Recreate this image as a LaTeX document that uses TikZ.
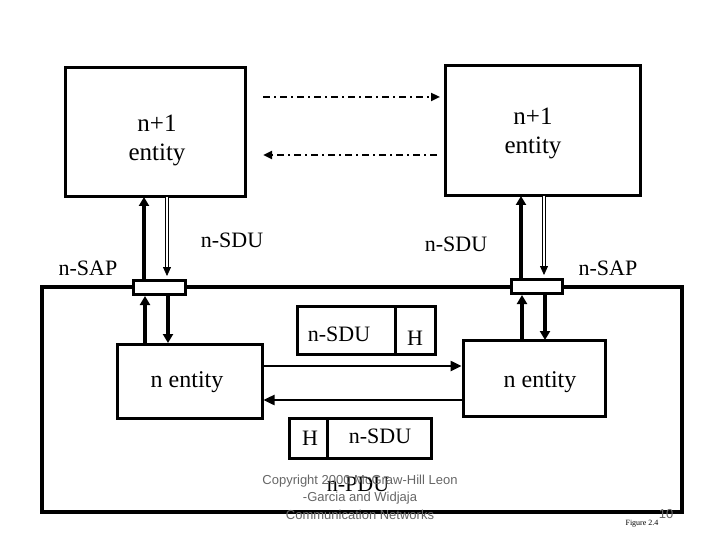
\documentclass[tikz,border=0pt]{standalone}
\usepackage{fontspec}
\setmainfont{Liberation Serif}
\newfontfamily\arialf{Liberation Sans}
\usetikzlibrary{arrows.meta}
\begin{document}
\begin{tikzpicture}[x=1pt,y=-1pt,
  box/.style={draw,line width=3pt,inner sep=0pt},
  lbl/.style={font=\fontsize{22}{24}\selectfont},
  big/.style={font=\fontsize{25}{29}\selectfont,align=center},
  thk/.style={line width=3.5pt,-{Triangle[length=9pt,width=10pt]}},
  hol/.style={double,double distance=2pt,line width=0.8pt,-{Triangle[length=9pt,width=8pt]}},
  dd/.style={line width=2.4pt,dash pattern=on 7pt off 4pt on 2pt off 4pt,-{Triangle[length=9pt,width=8pt]}},
  hz/.style={line width=2.4pt,-{Triangle[length=11pt,width=10pt]}},
  cp/.style={font=\arialf\fontsize{13}{14}\selectfont,text=gray!80!black}]
\useasboundingbox (0,0) rectangle (720,540);
\node[box,minimum width=180pt,minimum height=129pt] (ul) at (155,132.5) {};
\node[big] at (157,140) {n+1\\entity};
\node[box,minimum width=195pt,minimum height=130pt] (ur) at (542.5,131) {};
\node[big] at (533,133) {n+1\\entity};
\coordinate (a1) at (263,97); \coordinate (a2) at (440,97);
\coordinate (b1) at (437,155); \coordinate (b2) at (263,155);
\draw[dd] (a1) -- (a2);
\draw[dd] (b1) -- (b2);
\node[draw,line width=3.5pt,minimum width=640pt,minimum height=225pt] (outer) at (362,399.5) {};
\node[box,fill=white,minimum width=52pt,minimum height=14pt] (sl) at (159,287) {};
\node[box,fill=white,minimum width=51pt,minimum height=14pt] (sr) at (536.5,286.5) {};
\node[box,minimum width=145pt,minimum height=74pt] (nl) at (189.5,381) {};
\node[font=\fontsize{24}{27}\selectfont] at (187,382) {n entity};
\node[box,minimum width=142pt,minimum height=76pt] (nr) at (534,378) {};
\node[font=\fontsize{24}{27}\selectfont] at (540,382) {n entity};
% left vertical arrows
\draw[thk] (144,280) -- (144,197);
\draw[hol] (167,197) -- (167,276);
\draw[thk] (145,344) -- (145,296);
\draw[thk] (168,296) -- (168,343);
% right vertical arrows
\draw[thk] (521,279) -- (521,196);
\draw[hol] (544,196) -- (544,275);
\draw[thk] (522,340) -- (522,295);
\draw[thk] (545,295) -- (545,340);
% PDU boxes
\node[box,minimum width=138pt,minimum height=48pt] (p1) at (366,330) {};
\draw[line width=3pt] (395,306) -- (395,354);
\node[lbl] at (339,334) {n-SDU};
\node[lbl] at (415,338) {H};
\node[box,minimum width=142pt,minimum height=40pt] (p2) at (360,438) {};
\draw[line width=3pt] (327,418) -- (327,458);
\node[lbl] at (310,438) {H};
\node[lbl] at (380,436) {n-SDU};
\draw[hz] (nl.east |- 0,366) -- (nr.west |- 0,366);
\draw[hz] (nr.west |- 0,400) -- (nl.east |- 0,400);
% labels
\node[lbl] at (232,240) {n-SDU};
\node[lbl] at (456,244) {n-SDU};
\node[lbl] at (88,268) {n-SAP};
\node[lbl] at (608,268) {n-SAP};
\node[lbl] at (358,484) {n-PDU};
\node[cp] at (360,481) {Copyright 2000 McGraw-Hill Leon};
\node[cp] at (360,498) {-Garcia and Widjaja};
\node[cp] at (360,515) {Communication Networks};
\node[cp] at (666,514) {10};
\node[font=\fontsize{8}{9}\selectfont] at (642,524) {Figure 2.4};
\end{tikzpicture}
\end{document}
